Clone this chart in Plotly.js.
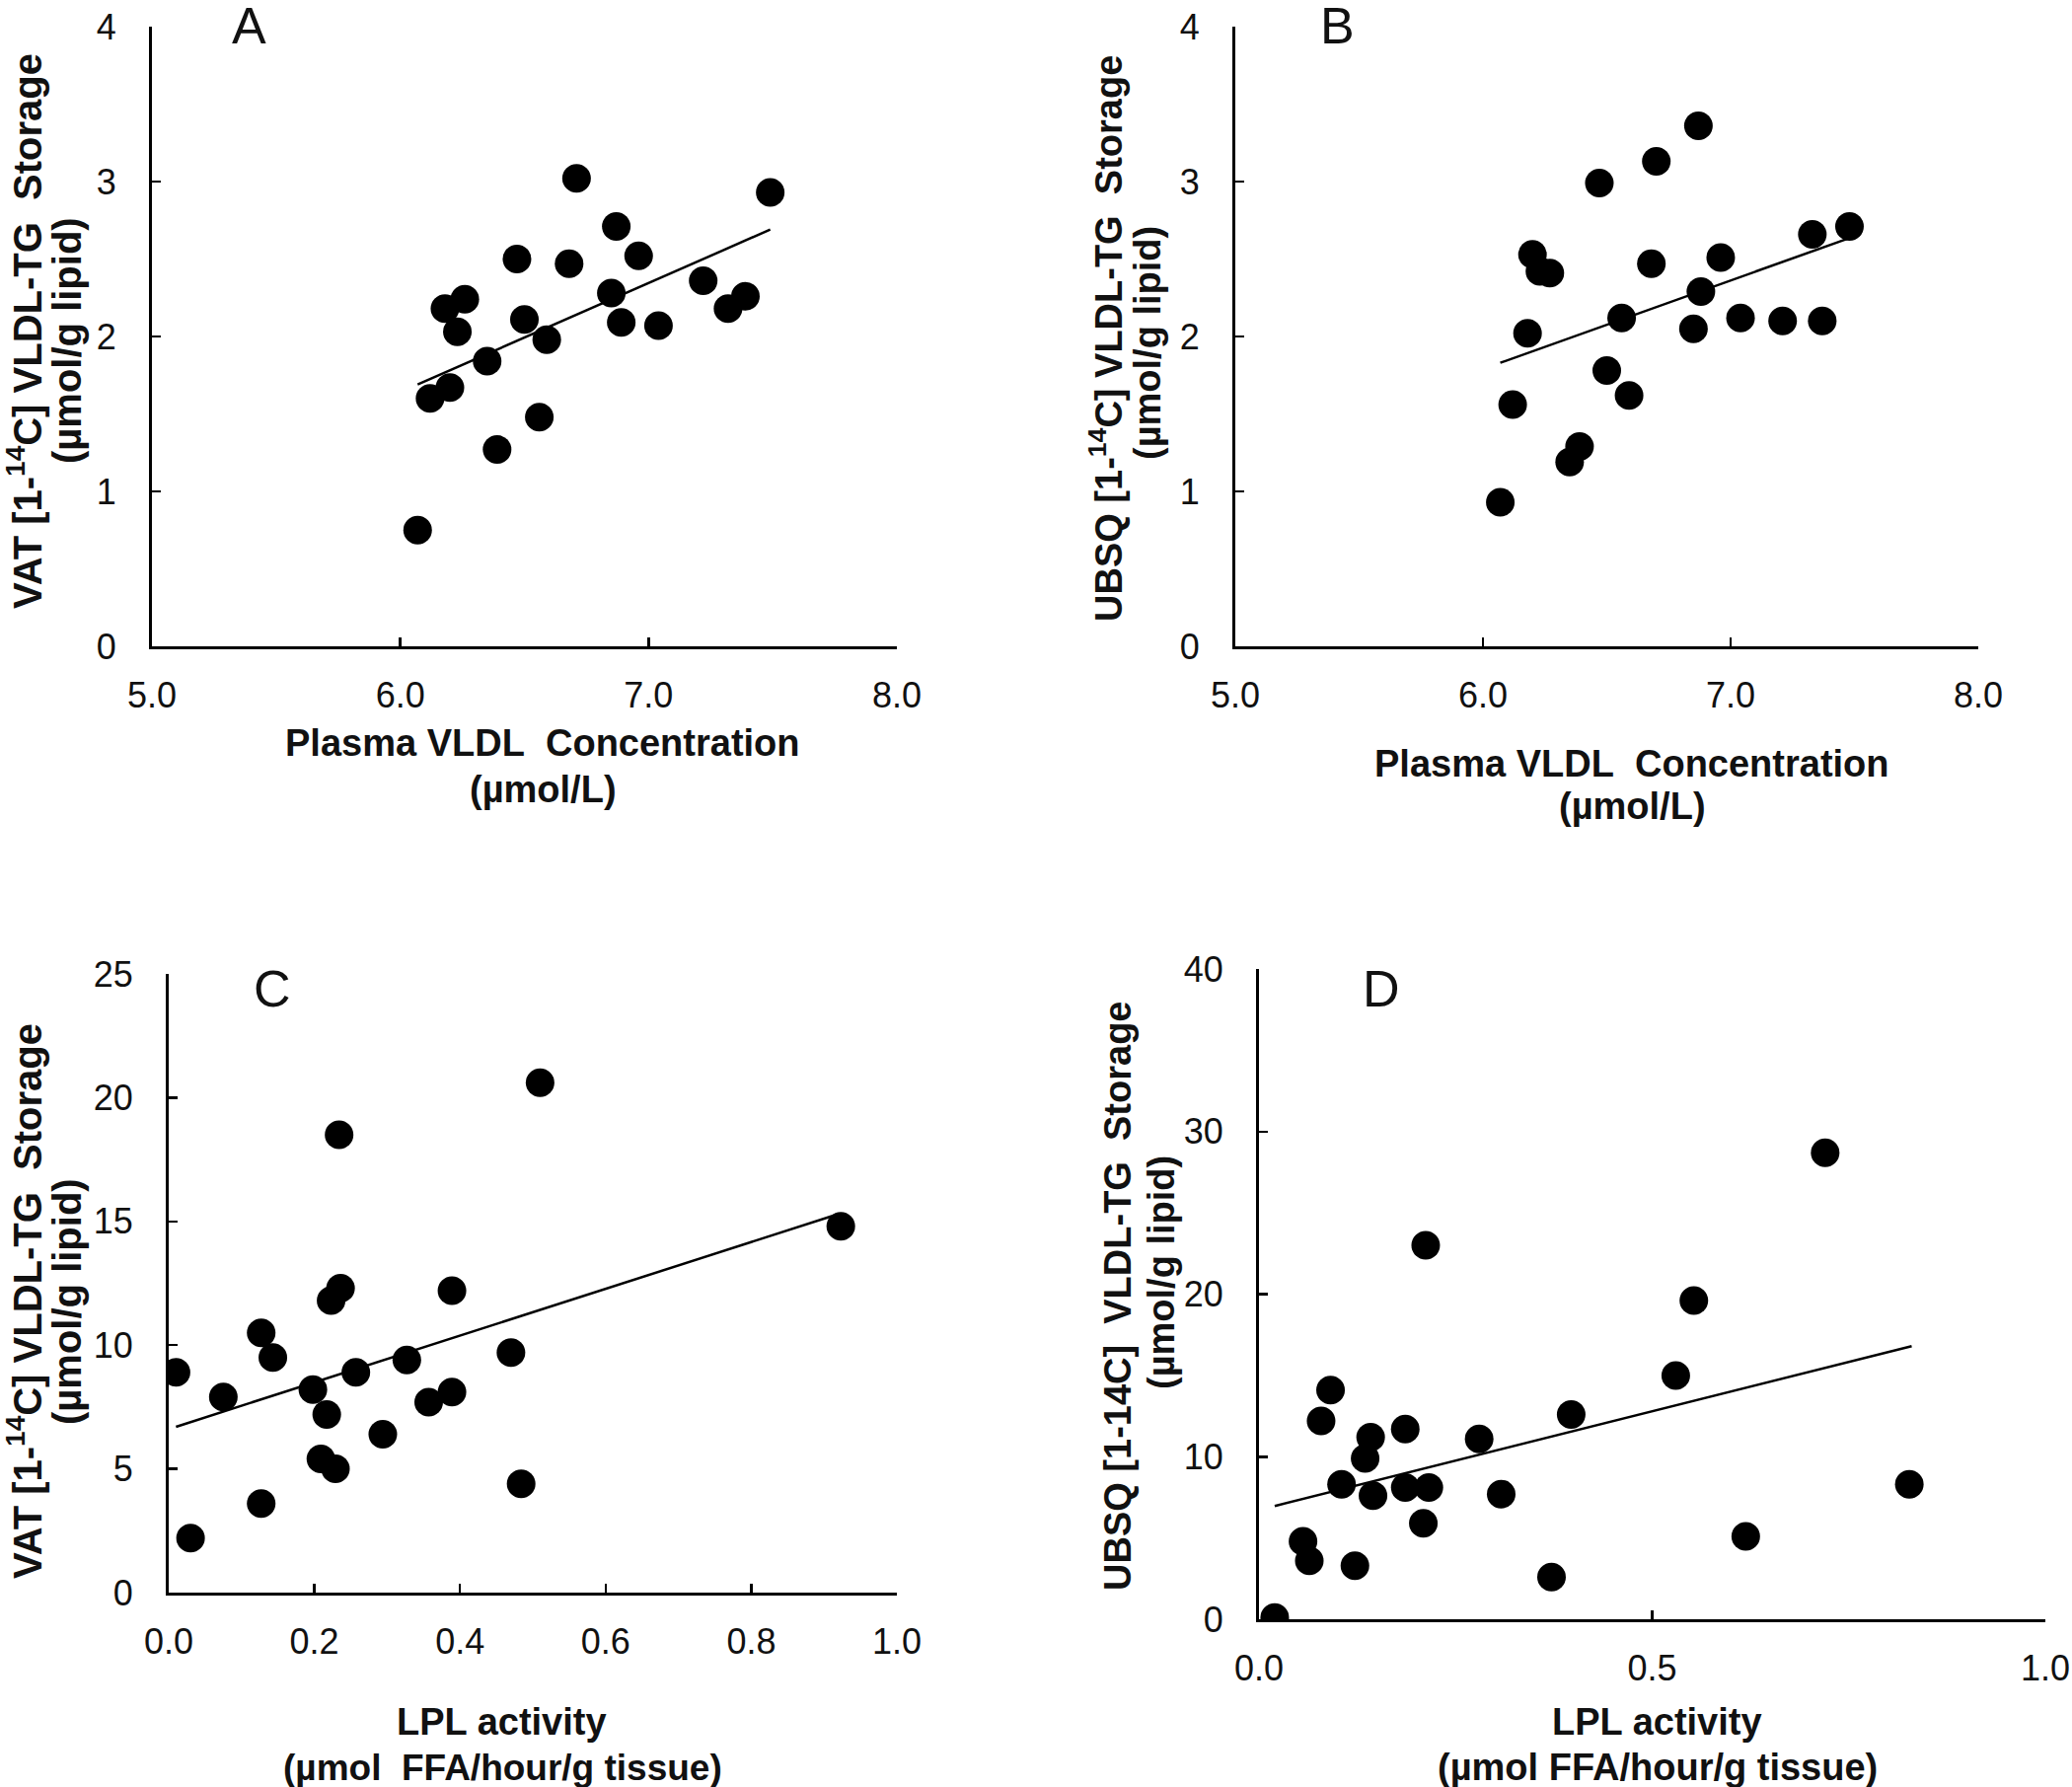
<!DOCTYPE html>
<html>
<head>
<meta charset="utf-8">
<script src="https://cdn.plot.ly/plotly-3.0.1.min.js"></script>
<style>
  html, body { margin: 0; padding: 0; background: #fff; }
  #chart { width: 2100px; height: 1811px; }
</style>
</head>
<body>
<div id="chart"></div>
<script>
// panel A: plasma VLDL vs VAT storage
const vldlA = [6.07, 6.12, 6.20, 6.18, 6.23, 6.26, 6.35, 6.39, 6.47, 6.50, 6.56, 6.59, 6.68, 6.71, 6.87, 6.85, 6.89, 6.96, 7.04, 7.22, 7.32, 7.39, 7.49];
const vatA = [0.75, 1.60, 1.67, 2.18, 2.03, 2.24, 1.84, 1.27, 2.50, 2.11, 1.48, 1.98, 2.47, 3.02, 2.71, 2.28, 2.09, 2.52, 2.07, 2.36, 2.18, 2.26, 2.93];
const fitAx = [6.07, 7.49];
const fitAy = [1.69, 2.69];

// panel B: plasma VLDL vs UBSQ storage
const vldlB = [6.07, 6.12, 6.18, 6.20, 6.23, 6.27, 6.35, 6.39, 6.47, 6.50, 6.56, 6.59, 6.68, 6.70, 6.87, 6.88, 6.85, 6.96, 7.04, 7.21, 7.37, 7.33, 7.48];
const ubsqB = [0.93, 1.56, 2.02, 2.53, 2.42, 2.41, 1.19, 1.29, 2.99, 1.78, 2.12, 1.62, 2.47, 3.13, 3.36, 2.29, 2.05, 2.51, 2.12, 2.10, 2.10, 2.66, 2.71];
const fitBx = [6.07, 7.47];
const fitBy = [1.83, 2.63];

// panel C: LPL activity vs VAT storage
const lplC = [0.01, 0.03, 0.075, 0.127, 0.127, 0.143, 0.198, 0.209, 0.217, 0.223, 0.229, 0.236, 0.234, 0.257, 0.294, 0.327, 0.357, 0.389, 0.389, 0.470, 0.484, 0.51, 0.923];
const vatC = [8.9, 2.2, 7.9, 10.5, 3.6, 9.5, 8.2, 5.4, 7.2, 11.8, 5.0, 12.3, 18.5, 8.9, 6.4, 9.4, 7.7, 12.2, 8.1, 9.7, 4.4, 20.6, 14.8];
const fitCx = [0.01, 0.92];
const fitCy = [6.7, 15.3];

// panel D: LPL activity vs UBSQ storage
const lplD = [0.020, 0.056, 0.064, 0.079, 0.091, 0.105, 0.122, 0.135, 0.142, 0.145, 0.186, 0.186, 0.216, 0.209, 0.212, 0.280, 0.308, 0.372, 0.397, 0.530, 0.553, 0.619, 0.720, 0.827];
const ubsqD = [0.1, 4.8, 3.6, 12.2, 14.1, 8.3, 3.3, 9.9, 11.2, 7.6, 11.7, 8.1, 8.1, 5.9, 23.0, 11.1, 7.7, 2.6, 12.6, 15.0, 19.6, 5.1, 28.7, 8.3];
const fitDx = [0.02, 0.83];
const fitDy = [6.97, 16.8];

const panelLetters = ["A", "B", "C", "D"];

const dot = { size: 29, color: "#000" };
const fitLine = { color: "#000", width: 2.5 };

function pts(x, y, n) {
   return { x: x, y: y, xaxis: "x" + n, yaxis: "y" + n, type: "scatter", mode: "markers", marker: dot, hoverinfo: "skip" };
}
function fit(x, y, n) {
   return { x: x, y: y, xaxis: "x" + n, yaxis: "y" + n, type: "scatter", mode: "lines", line: fitLine, hoverinfo: "skip" };
}

var data = [
   fit(fitAx, fitAy, ""), pts(vldlA, vatA, ""),
   fit(fitBx, fitBy, "2"), pts(vldlB, ubsqB, "2"),
   fit(fitCx, fitCy, "3"), pts(lplC, vatC, "3"),
   fit(fitDx, fitDy, "4"), pts(lplD, ubsqD, "4"),
];

const tickFont = { family: "Liberation Sans, Arial, sans-serif", size: 36, color: "#111" };

function xax(domain, range, dtick, anchor) {
   return {
      domain: domain, range: range, dtick: dtick, tick0: range[0], tickformat: ".1f", anchor: anchor,
      showline: true, linecolor: "#000", linewidth: 3,
      ticks: "inside", ticklen: 9, tickwidth: 2.5, tickcolor: "#000",
      showgrid: false, zeroline: false, fixedrange: true,
      tickfont: tickFont, ticklabelstandoff: 16,
   };
}
function yax(domain, range, dtick, anchor) {
   return {
      domain: domain, range: range, dtick: dtick, tick0: 0, anchor: anchor,
      showline: true, linecolor: "#000", linewidth: 3,
      ticks: "inside", ticklen: 9, tickwidth: 2.5, tickcolor: "#000",
      showgrid: false, zeroline: false, fixedrange: true,
      tickfont: tickFont, ticklabelstandoff: 26,
   };
}

const W = 2100, H = 1811;
function px(x) { return x / W; }
function py(y) { return 1 - y / H; }
const sp = "\u00a0";

function label(text, x, y, angle, size, bold) {
   return { text: bold ? "<b>" + text + "</b>" : text, x: px(x), y: py(y), xref: "paper", yref: "paper",
            showarrow: false, textangle: angle, xanchor: "center", yanchor: "middle",
            font: { family: "Liberation Sans, Arial, sans-serif", size: size, color: "#111" } };
}

var annotations = [
   // A
   label("VAT [1-<sup>14</sup>C] VLDL-TG" + sp + sp + "Storage", 25, 336, -90, 40, true),
   label("(µmol/g lipid)", 68, 345, -90, 40, true),
   label("Plasma VLDL" + sp + " Concentration", 550, 753, 0, 38, true),
   label("(µmol/L)", 550, 800, 0, 38, true),
   // B
   label("UBSQ [1-<sup>14</sup>C] VLDL-TG" + sp + sp + "Storage", 1121, 343, -90, 38, true),
   label("(µmol/g lipid)", 1163, 348, -90, 38, true),
   label("Plasma VLDL" + sp + " Concentration", 1654, 774, 0, 38, true),
   label("(µmol/L)", 1654, 817, 0, 38, true),
   // C
   label("VAT [1-<sup>14</sup>C] VLDL-TG" + sp + sp + "Storage", 25, 1319, -90, 40, true),
   label("(µmol/g lipid)", 68, 1319, -90, 40, true),
   label("LPL activity", 508, 1745, 0, 38, true),
   label("(µmol" + sp + " FFA/hour/g tissue)", 509, 1791, 0, 37, true),
   // D
   label("UBSQ [1-14C]" + sp + " VLDL-TG" + sp + sp + "Storage", 1133, 1313, -90, 38, true),
   label("(µmol/g lipid)", 1177, 1290, -90, 38, true),
   label("LPL activity", 1679, 1745, 0, 38, true),
   label("(µmol FFA/hour/g tissue)", 1680, 1791, 0, 38, true),
];
const letterPos = [[252, 26], [1355, 26], [276, 1002], [1400, 1002]];
panelLetters.forEach(function (l, i) {
   annotations.push(label(l, letterPos[i][0], letterPos[i][1], 0, 52, false));
});

var layout = {
   width: W, height: H, autosize: false, showlegend: false,
   margin: { l: 0, r: 0, t: 0, b: 0 },
   paper_bgcolor: "#fff", plot_bgcolor: "#fff",
   xaxis: xax([px(154), px(909)], [5, 8], 1, "y"),
   yaxis: yax([py(655), py(27)], [0, 4], 1, "x"),
   xaxis2: xax([px(1252), px(2005)], [5, 8], 1, "y2"),
   yaxis2: yax([py(655), py(27)], [0, 4], 1, "x2"),
   xaxis3: xax([px(171), px(909)], [0, 1], 0.2, "y3"),
   yaxis3: yax([py(1614), py(987)], [0, 25], 5, "x3"),
   xaxis4: xax([px(1276), px(2073)], [0, 1], 0.5, "y4"),
   yaxis4: yax([py(1641), py(982)], [0, 40], 10, "x4"),
   annotations: annotations,
};

Plotly.newPlot("chart", data, layout, { staticPlot: true, displayModeBar: false });
</script>
</body>
</html>
